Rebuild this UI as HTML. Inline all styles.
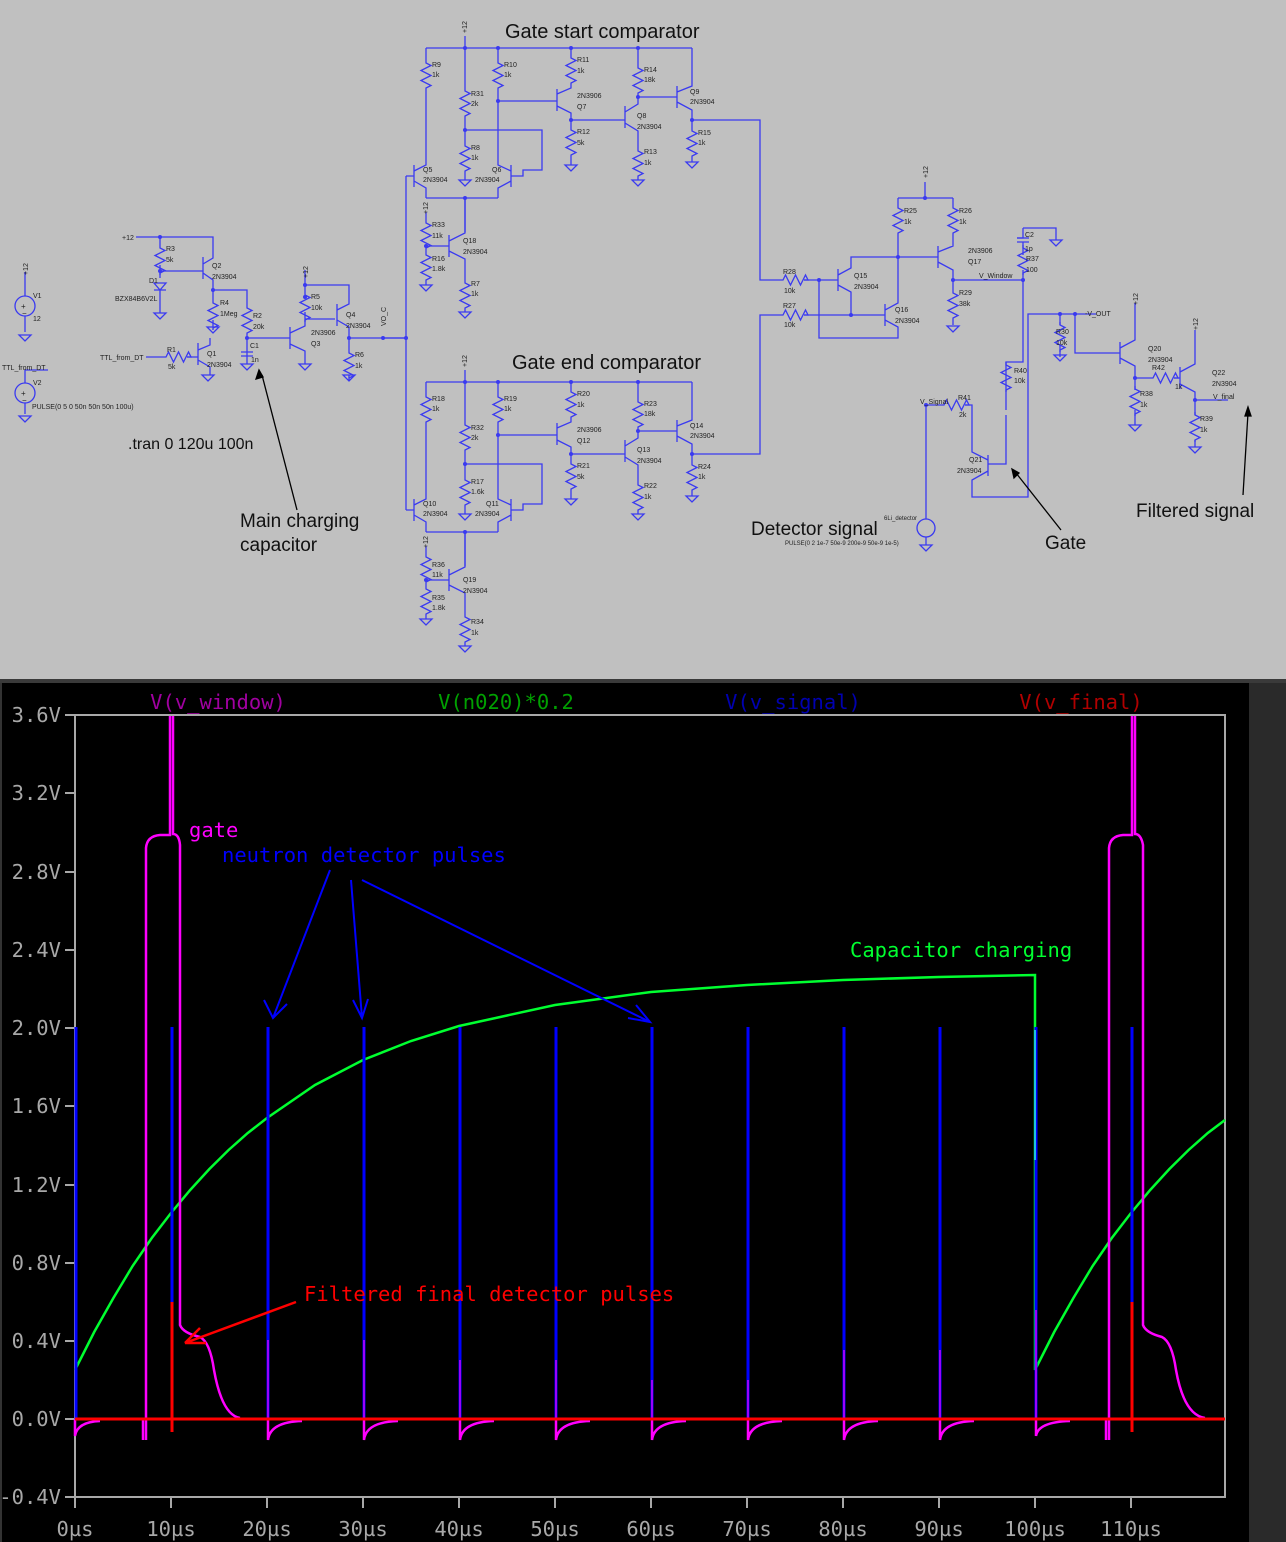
<!DOCTYPE html>
<html><head><meta charset="utf-8"><style>
html,body{margin:0;padding:0;background:#000;}
body{width:1286px;height:1542px;position:relative;overflow:hidden;}
svg{position:absolute;left:0;top:0;}
.s{font-family:"Liberation Sans",sans-serif;font-size:7px;fill:#222;}
.b{font-family:"Liberation Sans",sans-serif;fill:#111;}
.m{font-family:"DejaVu Sans Mono","Liberation Mono",monospace;font-size:20.5px;}
</style></head><body>
<svg width="1286" height="1542" viewBox="0 0 1286 1542" xmlns="http://www.w3.org/2000/svg">
<defs>
<path id="r" d="M0 0V3l5 2.5-10 5 10 5-10 5 10 5-5 2.5V30" fill="none" stroke="#3a3af0" stroke-width="1.3"/>
<path id="rh" d="M0 0H3l2.5 -5 5 10 5-10 5 10 5-10 2.5 5H24" fill="none" stroke="#3a3af0" stroke-width="1.3"/>
<path id="g" d="M-6 0H6L0 6Z" fill="none" stroke="#3a3af0" stroke-width="1.3"/>
<g id="cmp">
<path d="M426 48H692M465 48V36M426 48V60M426 90V165L414 171M414 165V187M414 181L426 188V198M406 176H414M465 48V88M465 118V143M465 173V180M498 48V60M498 90V165L511 171M511 165V187M511 181L498 188V198M511 176H523V170H542V130H465M426 198H498M465 198V232M498 101H557M571 48V55M571 85V88L557 94M557 89V111M557 106L571 113V127M571 157V165M571 120H625M638 48V65M638 95V104L625 112M625 106V128M625 123L638 131V148M638 178V180M638 97H677M692 48V86L677 92M677 86V108M677 102L692 110V128M692 158V162" fill="none" stroke="#3a3af0" stroke-width="1.3"/>
<use href="#r" x="426" y="60"/><use href="#r" x="465" y="88"/><use href="#r" x="465" y="143"/><use href="#r" x="498" y="60"/><use href="#r" x="571" y="55"/><use href="#r" x="571" y="127"/><use href="#r" x="638" y="65"/><use href="#r" x="638" y="148"/><use href="#r" x="692" y="128"/>
<use href="#g" x="465" y="180"/><use href="#g" x="571" y="165"/><use href="#g" x="638" y="180"/><use href="#g" x="692" y="162"/>
<g fill="#3a3af0"><circle cx="465" cy="48" r="2"/><circle cx="498" cy="48" r="2"/><circle cx="571" cy="48" r="2"/><circle cx="638" cy="48" r="2"/><circle cx="465" cy="130" r="2"/><circle cx="498" cy="101" r="2"/><circle cx="571" cy="120" r="2"/><circle cx="638" cy="97" r="2"/><circle cx="692" cy="120" r="2"/><circle cx="465" cy="198" r="2"/></g>
<text class="s" x="467" y="33" transform="rotate(-90 467 33)">+12</text>
</g>
<g id="bias">
<path d="M426 212V220M426 250V252M426 246H449M449 235V257M449 241L465 233V198M449 251L465 259V280M465 310V312M426 282V285" fill="none" stroke="#3a3af0" stroke-width="1.3"/>
<use href="#r" x="426" y="220"/><use href="#r" x="426" y="252"/><use href="#r" x="465" y="280"/>
<use href="#g" x="426" y="285"/><use href="#g" x="465" y="312"/>
<circle cx="426" cy="246" r="2" fill="#3a3af0"/>
<text class="s" x="428" y="214" transform="rotate(-90 428 214)">+12</text>
</g>
</defs>
<rect x="0" y="0" width="1286" height="679" fill="#c0c0c0"/>
<rect x="0" y="679" width="1286" height="4" fill="#3a3a3a"/>
<rect x="1249" y="683" width="37" height="859" fill="#2a2a2a"/>
<use href="#cmp"/><use href="#cmp" y="334"/>
<use href="#bias"/><use href="#bias" y="334"/>
<g class="s">
<text x="432" y="67">R9</text><text x="432" y="77">1k</text><text x="471" y="96">R31</text><text x="471" y="106">2k</text><text x="471" y="150">R8</text><text x="471" y="160">1k</text><text x="504" y="67">R10</text><text x="504" y="77">1k</text><text x="577" y="62">R11</text><text x="577" y="73">1k</text><text x="577" y="134">R12</text><text x="577" y="145">5k</text><text x="644" y="72">R14</text><text x="644" y="82">18k</text><text x="644" y="154">R13</text><text x="644" y="165">1k</text><text x="698" y="135">R15</text><text x="698" y="145">1k</text>
<text x="577" y="98">2N3906</text><text x="577" y="109">Q7</text><text x="637" y="118">Q8</text><text x="637" y="129">2N3904</text><text x="690" y="94">Q9</text><text x="690" y="104">2N3904</text><text x="423" y="172">Q5</text><text x="423" y="182">2N3904</text><text x="492" y="172">Q6</text><text x="475" y="182">2N3904</text>
<text x="432" y="227">R33</text><text x="432" y="238">11k</text><text x="432" y="261">R16</text><text x="432" y="271">1.8k</text><text x="463" y="243">Q18</text><text x="463" y="254">2N3904</text><text x="471" y="286">R7</text><text x="471" y="296">1k</text>
<text x="432" y="401">R18</text><text x="432" y="411">1k</text><text x="471" y="430">R32</text><text x="471" y="440">2k</text><text x="471" y="484">R17</text><text x="471" y="494">1.6k</text><text x="504" y="401">R19</text><text x="504" y="411">1k</text><text x="577" y="396">R20</text><text x="577" y="407">1k</text><text x="577" y="468">R21</text><text x="577" y="479">5k</text><text x="644" y="406">R23</text><text x="644" y="416">18k</text><text x="644" y="488">R22</text><text x="644" y="499">1k</text><text x="698" y="469">R24</text><text x="698" y="479">1k</text>
<text x="577" y="432">2N3906</text><text x="577" y="443">Q12</text><text x="637" y="452">Q13</text><text x="637" y="463">2N3904</text><text x="690" y="428">Q14</text><text x="690" y="438">2N3904</text><text x="423" y="506">Q10</text><text x="423" y="516">2N3904</text><text x="486" y="506">Q11</text><text x="475" y="516">2N3904</text>
<text x="432" y="567">R36</text><text x="432" y="577">11k</text><text x="432" y="600">R35</text><text x="432" y="610">1.8k</text><text x="463" y="582">Q19</text><text x="463" y="593">2N3904</text><text x="471" y="624">R34</text><text x="471" y="635">1k</text>
</g>
<g fill="none" stroke="#3a3af0" stroke-width="1.3">
<path d="M406 176V510M383 338H406M692 120H760V280H780M692 454H760V315H780"/>
<path d="M136 237H213V258L203 264M203 257V279M203 273L213 280V290H247V305M160 237V245M160 265V271H203M160 271V278M160 289V313M213 290V300M213 320V327M247 335V345M247 338H290M210 338V345L198 350M198 343V365M198 360L210 367V375M146 357H163M187 357H198M247 345V356M241 352H253M241 356H253M247 356V364"/>
<path d="M154 283H166L160 290ZM154 290H166"/>
<path d="M290 327V349M290 333L305 326V319H335M290 344L305 351V364M305 270V292M305 312V319M305 285H349V304L337 310M337 304V326M337 320L349 327V338H406M349 338V350M349 375V378"/>
<path d="M25 272V296M25 316V332M25 370H48M25 370V383M25 403V414"/>
<circle cx="25" cy="306" r="10"/><circle cx="25" cy="393" r="10"/>
</g>
<use href="#rh" x="163" y="357"/><use href="#r" x="160" y="245"/><use href="#r" x="213" y="300"/><use href="#r" x="247" y="305"/><use href="#r" x="305" y="292"/><use href="#r" x="349" y="350"/>
<use href="#g" x="160" y="313"/><use href="#g" x="213" y="327"/><use href="#g" x="247" y="364"/><use href="#g" x="208" y="375"/><use href="#g" x="305" y="364"/><use href="#g" x="349" y="375"/><use href="#g" x="25" y="335"/><use href="#g" x="25" y="416"/>
<g fill="#3a3af0"><circle cx="160" cy="237" r="2"/><circle cx="160" cy="271" r="2"/><circle cx="213" cy="290" r="2"/><circle cx="247" cy="338" r="2"/><circle cx="305" cy="285" r="2"/><circle cx="305" cy="297" r="2"/><circle cx="349" cy="338" r="2"/><circle cx="383" cy="338" r="2"/><circle cx="406" cy="338" r="2"/></g>
<g class="s">
<text x="122" y="240">+12</text><text x="166" y="251">R3</text><text x="166" y="262">5k</text><text x="149" y="283">D1</text><text x="115" y="301">BZX84B6V2L</text><text x="212" y="268">Q2</text><text x="212" y="279">2N3904</text><text x="220" y="305">R4</text><text x="220" y="316">1Meg</text><text x="253" y="318">R2</text><text x="253" y="329">20k</text><text x="250" y="348">C1</text><text x="251" y="362">1n</text>
<text x="167" y="352">R1</text><text x="168" y="369">5k</text><text x="100" y="360">TTL_from_DT</text><text x="207" y="356">Q1</text><text x="207" y="367">2N3904</text>
<text x="311" y="299">R5</text><text x="311" y="310">10k</text><text x="346" y="317">Q4</text><text x="346" y="328">2N3904</text><text x="311" y="335">2N3906</text><text x="311" y="346">Q3</text><text x="355" y="357">R6</text><text x="355" y="368">1k</text><text x="386" y="326" transform="rotate(-90 386 326)">VO_C</text><text x="308" y="278" transform="rotate(-90 308 278)">+12</text>
<text x="28" y="275" transform="rotate(-90 28 275)">+12</text><text x="33" y="298">V1</text><text x="33" y="321">12</text><text x="2" y="370">TTL_from_DT</text><text x="33" y="385">V2</text><text x="32" y="409">PULSE(0 5 0 50n 50n 50n 100u)</text>
<text x="21" y="309" font-size="8">+</text><text x="22" y="316" font-size="8">−</text><text x="21" y="396" font-size="8">+</text><text x="22" y="403" font-size="8">−</text>
</g>
<g fill="none" stroke="#3a3af0" stroke-width="1.3">
<path d="M804 280H838M838 269V291M838 275L851 268V257H938M838 285L851 292V315M804 315H885M885 304V326M885 310L898 303V257M885 320L898 327V338H819V280M898 198H953M925 198V182M898 198V205M898 235V257M953 198V205M953 235V246L938 252M938 246V268M938 262L953 270V290M953 320V325M953 280H1023M1023 228V238H1017M1017 242H1029M1023 242V255M1023 228H1056V240M1023 270V362H1006V385M1006 385V410M1006 415V464H988M988 455V476M988 460L972 452V405H965M988 471L972 480V497H1028V314H1096M941 405H926V519M926 537V545M1060 314V325M1060 345V357M1075 314V353H1120M1120 342V364M1120 348L1135 340V303M1120 358L1135 366V390M1135 378H1150M1174 378H1180M1180 367V389M1180 372L1195 364V330M1180 384L1195 392V415M1195 400H1228M1135 410V425M1195 440V447"/>
<path d="M1017 238H1029"/>
<circle cx="926" cy="528" r="9"/>
</g>
<use href="#rh" x="780" y="280"/><use href="#rh" x="780" y="315"/><use href="#r" x="898" y="205"/><use href="#r" x="953" y="205"/><use href="#r" x="953" y="290"/><use href="#r" x="1023" y="245"/><use href="#r" x="1006" y="362"/><use href="#rh" x="941" y="405"/><use href="#r" x="1060" y="322"/><use href="#rh" x="1150" y="378"/><use href="#r" x="1135" y="386"/><use href="#r" x="1195" y="412"/>
<use href="#g" x="953" y="326"/><use href="#g" x="1056" y="240"/><use href="#g" x="1060" y="355"/><use href="#g" x="1135" y="425"/><use href="#g" x="1195" y="447"/><use href="#g" x="926" y="545"/>
<g fill="#3a3af0"><circle cx="819" cy="280" r="2"/><circle cx="851" cy="315" r="2"/><circle cx="898" cy="257" r="2"/><circle cx="925" cy="198" r="2"/><circle cx="953" cy="280" r="2"/><circle cx="1023" cy="280" r="2"/><circle cx="1060" cy="314" r="2"/><circle cx="1075" cy="314" r="2"/><circle cx="1135" cy="378" r="2"/><circle cx="1195" cy="400" r="2"/><circle cx="926" cy="405" r="2"/></g>
<g class="s">
<text x="783" y="274">R28</text><text x="784" y="293">10k</text><text x="783" y="308">R27</text><text x="784" y="327">10k</text><text x="854" y="278">Q15</text><text x="854" y="289">2N3904</text><text x="895" y="312">Q16</text><text x="895" y="323">2N3904</text>
<text x="904" y="213">R25</text><text x="904" y="224">1k</text><text x="959" y="213">R26</text><text x="959" y="224">1k</text><text x="968" y="253">2N3906</text><text x="968" y="264">Q17</text><text x="979" y="278">V_Window</text><text x="959" y="295">R29</text><text x="959" y="306">38k</text>
<text x="1025" y="237">C2</text><text x="1025" y="251">1p</text><text x="1026" y="261">R37</text><text x="1026" y="272">100</text><text x="928" y="178" transform="rotate(-90 928 178)">+12</text>
<text x="1056" y="334">R30</text><text x="1056" y="345">10k</text><text x="1085" y="316">-V_OUT</text><text x="1014" y="373">R40</text><text x="1014" y="383">10k</text>
<text x="920" y="404">V_Signal</text><text x="958" y="400">R41</text><text x="959" y="417">2k</text><text x="969" y="462">Q21</text><text x="957" y="473">2N3904</text>
<text x="1148" y="351">Q20</text><text x="1148" y="362">2N3904</text><text x="1152" y="370">R42</text><text x="1175" y="389">1k</text><text x="1140" y="396">R38</text><text x="1140" y="407">1k</text><text x="1212" y="375">Q22</text><text x="1212" y="386">2N3904</text><text x="1213" y="399">V_final</text><text x="1200" y="421">R39</text><text x="1200" y="432">1k</text>
<text x="1138" y="305" transform="rotate(-90 1138 305)">+12</text><text x="1198" y="330" transform="rotate(-90 1198 330)">+12</text>
<text x="884" y="520" font-size="6">6Li_detector</text><text x="785" y="545" font-size="6">PULSE(0 2 1e-7 50e-9 200e-9 50e-9 1e-5)</text>
</g>
<g class="b">
<text x="505" y="38" font-size="20">Gate start comparator</text>
<text x="512" y="369" font-size="20">Gate end comparator</text>
<text x="128" y="449" font-size="16">.tran 0 120u 100n</text>
<text x="240" y="527" font-size="19">Main charging</text><text x="240" y="551" font-size="19">capacitor</text>
<text x="751" y="535" font-size="19">Detector signal</text>
<text x="1045" y="549" font-size="19">Gate</text>
<text x="1136" y="517" font-size="19">Filtered signal</text>
</g>
<g stroke="#000" stroke-width="1.3" fill="#000">
<path d="M297 510L262 375"/><path d="M259 370l-3 9 7-2z"/>
<path d="M1061 530L1016 473"/><path d="M1012 469l2 9 5-5z"/>
<path d="M1243 495L1248 413"/><path d="M1248 407l-3 9h6z"/>
</g>
<rect x="0" y="683" width="1249" height="859" fill="#000"/>
<rect x="0" y="683" width="2" height="859" fill="#333"/>
<g stroke="#a8a8a8" stroke-width="2" fill="none">
<rect x="75" y="715" width="1150" height="782"/>
<path d="M65 715H75M65 793H75M65 872H75M65 950H75M65 1028H75M65 1106H75M65 1185H75M65 1263H75M65 1341H75M65 1419H75M65 1497H75"/>
<path d="M75 1497V1508M171 1497V1508M267 1497V1508M363 1497V1508M459 1497V1508M555 1497V1508M651 1497V1508M747 1497V1508M843 1497V1508M939 1497V1508M1035 1497V1508M1131 1497V1508"/>
</g>
<g class="m" fill="#a8a8a8" text-anchor="end">
<text x="61" y="722">3.6V</text><text x="61" y="800">3.2V</text><text x="61" y="879">2.8V</text><text x="61" y="957">2.4V</text><text x="61" y="1035">2.0V</text><text x="61" y="1113">1.6V</text><text x="61" y="1192">1.2V</text><text x="61" y="1270">0.8V</text><text x="61" y="1348">0.4V</text><text x="61" y="1426">0.0V</text><text x="61" y="1504">-0.4V</text>
</g>
<g class="m" fill="#a8a8a8" text-anchor="middle">
<text x="75" y="1536">0µs</text><text x="171" y="1536">10µs</text><text x="267" y="1536">20µs</text><text x="363" y="1536">30µs</text><text x="459" y="1536">40µs</text><text x="555" y="1536">50µs</text><text x="651" y="1536">60µs</text><text x="747" y="1536">70µs</text><text x="843" y="1536">80µs</text><text x="939" y="1536">90µs</text><text x="1035" y="1536">100µs</text><text x="1131" y="1536">110µs</text>
</g>
<g class="m" text-anchor="middle">
<text x="218" y="709" fill="#a000a0">V(v_window)</text><text x="506" y="709" fill="#00a000">V(n020)*0.2</text><text x="793" y="709" fill="#0000b0">V(v_signal)</text><text x="1081" y="709" fill="#b00000">V(v_final)</text>
</g>
<path fill="none" stroke="#00ff30" stroke-width="2.5" d="M75 1370 L94.2 1332 L113.4 1298 L132.6 1266 L151.8 1238 L171 1213 L190.2 1190 L209.4 1169 L228.6 1150 L247.8 1133 L267 1118 L315 1085 L363 1060 L411 1041 L459 1026 L555 1005 L651 992 L747 985 L843 980 L939 977 L1035 975 V1370 L1054.2 1332 L1073.4 1298 L1092.6 1266 L1111.8 1238 L1131 1213 L1150.2 1190 L1169.4 1169 L1188.6 1150 L1207.8 1133 L1225 1120"/>
<path fill="none" stroke="#ff00ff" stroke-width="2.5" d="M75 1419V1436 Q77 1422 100 1421 M143 1419 V1440 M146 1440 V848 Q147 836 160 835 H170 V716 M173 716 V834 Q179 834 180 845 V1325 Q183 1333 200 1337 Q210 1342 214 1370 Q222 1415 240 1418 M1106 1419 V1440 M1109 1440 V848 Q1110 836 1123 835 H1132 V716 M1135 716 V834 Q1141 834 1143 845 V1325 Q1146 1333 1162 1337 Q1172 1342 1176 1370 Q1184 1415 1205 1418"/>
<path fill="none" stroke="#ff00ff" stroke-width="2.5" d="M268 1419V1440 Q270 1422 302 1421 M364 1419V1440 Q366 1422 398 1421 M460 1419V1440 Q462 1422 494 1421 M556 1419V1440 Q558 1422 590 1421 M652 1419V1440 Q654 1422 686 1421 M748 1419V1440 Q750 1422 782 1421 M844 1419V1440 Q846 1422 878 1421 M940 1419V1440 Q942 1422 974 1421 M1036 1419V1436 Q1038 1422 1070 1421"/>
<path fill="none" stroke="#0000ff" stroke-width="3" d="M76 1027V1419M172 1027V1419M268 1027V1419M364 1027V1419M460 1027V1419M556 1027V1419M652 1027V1419M748 1027V1419M844 1027V1419M940 1027V1419M1036 1027V1419M1132 1027V1419"/>
<path fill="none" stroke="#ff00ff" stroke-width="1.2" d="M268 1340V1419M364 1340V1419M460 1360V1419M556 1360V1419M652 1380V1419M748 1380V1419M844 1350V1419M940 1350V1419M1036 1310V1419"/>
<path fill="none" stroke="#20c0e0" stroke-width="2" d="M1035 1030V1160"/>
<path fill="none" stroke="#ff0000" stroke-width="3" d="M75 1419H1225M172 1302V1432M1132 1302V1432"/>
<g class="m">
<text x="189" y="837" fill="#ff00ff">gate</text>
<text x="222" y="862" fill="#0000ff">neutron detector pulses</text>
<text x="850" y="957" fill="#00ff30">Capacitor charging</text>
<text x="304" y="1301" fill="#ff0000">Filtered final detector pulses</text>
</g>
<g fill="none" stroke="#0000ff" stroke-width="2">
<path d="M330 870L273 1018M264 1000L273 1018L287 1004"/>
<path d="M351 880L362 1018M353 1000L362 1018L368 999"/>
<path d="M362 880L650 1022M628 1018L650 1022L636 1005"/>
</g>
<g fill="none" stroke="#ff0000" stroke-width="2.5">
<path d="M296 1302L185 1343L206 1343M185 1343L200 1328"/>
</g>
</svg>
</body></html>
